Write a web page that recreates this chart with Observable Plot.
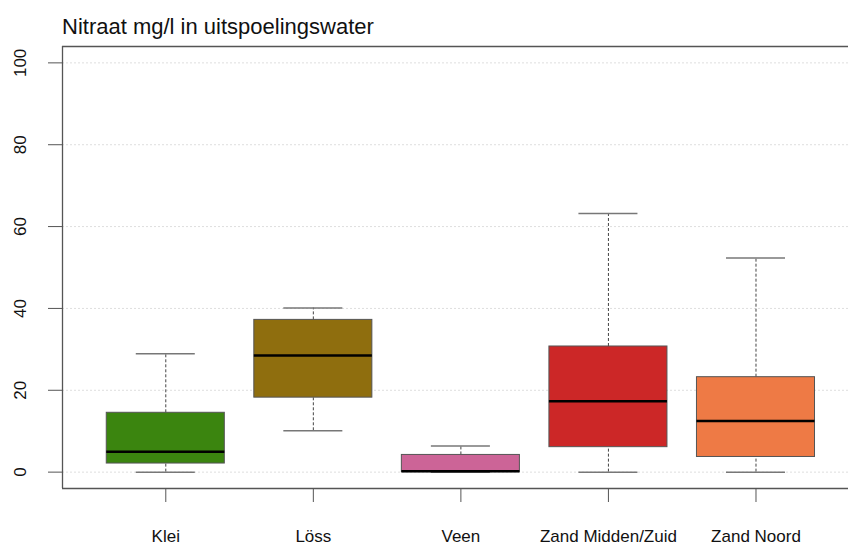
<!DOCTYPE html>
<html>
<head>
<meta charset="utf-8">
<script src="https://cdn.jsdelivr.net/npm/d3@7"></script>
<script src="https://cdn.jsdelivr.net/npm/@observablehq/plot@0.6"></script>
<style>
  html, body { margin: 0; padding: 0; background: white; overflow: hidden; }
  #title { height: 22px; padding: 16px 0 2px 62px; font: 22px "Liberation Sans", Arial, sans-serif; line-height: 22px; color: #111; white-space: nowrap; }
</style>
</head>
<body>
<div id="title">Nitraat mg/l in uitspoelingswater</div>
<div id="chart"></div>
<script>
const categories = ["Klei", "Löss", "Veen", "Zand Midden/Zuid", "Zand Noord"];
const colors     = ["#3b850f", "#8f6e0e", "#cc6497", "#cc2727", "#ee7a45"];
const whiskerLow = [0, 10.1, 0, 0, 0];
const q1         = [2.1, 18.2, 0, 6.1, 3.7];
const median     = [5.0, 28.5, 0.2, 17.3, 12.5];
const q3         = [14.5, 37.2, 4.2, 30.7, 23.2];
const whiskerHigh= [28.9, 40.1, 6.4, 63.2, 52.3];
const yTicks     = [0, 20, 40, 60, 80, 100];

const data = categories.map((c, i) => ({
  cat: c, pos: i + 1, color: colors[i],
  lo: whiskerLow[i], q1: q1[i], med: median[i], q3: q3[i], hi: whiskerHigh[i]
}));

const xMin = 0.3, xMax = 5.627, yMin = -4, yMax = 104;
const boxHalf = 0.4, capHalf = 0.2;

const plot = Plot.plot({
  width: 848,
  height: 505,
  marginLeft: 62,
  marginRight: 0,
  marginTop: 6,
  marginBottom: 57,
  style: { fontFamily: "'Liberation Sans', Arial, sans-serif", fontSize: "16px", background: "white", color: "#111" },
  x: { domain: [xMin, xMax], axis: null },
  y: { domain: [yMin, yMax], axis: null },
  marks: [
    // grid
    Plot.ruleY(yTicks, { stroke: "#dedede", strokeDasharray: "2,2", strokeWidth: 1 }),
    // whiskers
    Plot.ruleX(data, { x: "pos", y1: "q3", y2: "hi", stroke: "#444", strokeDasharray: "3,2", strokeWidth: 1 }),
    Plot.ruleX(data, { x: "pos", y1: "lo", y2: "q1", stroke: "#444", strokeDasharray: "3,2", strokeWidth: 1 }),
    // caps
    Plot.ruleY(data, { y: "hi", x1: d => d.pos - capHalf, x2: d => d.pos + capHalf, stroke: "#777", strokeWidth: 1.5 }),
    Plot.ruleY(data, { y: "lo", x1: d => d.pos - capHalf, x2: d => d.pos + capHalf, stroke: "#777", strokeWidth: 1.5 }),
    // boxes
    Plot.rect(data, { x1: d => d.pos - boxHalf, x2: d => d.pos + boxHalf, y1: "q1", y2: "q3", fill: "color", stroke: "#555", strokeWidth: 1 }),
    // medians
    Plot.ruleY(data, { y: "med", x1: d => d.pos - boxHalf, x2: d => d.pos + boxHalf, stroke: "#000", strokeWidth: 2.5 }),
    // frame (right edge falls outside the window)
    Plot.ruleX([xMin], { y1: yMin, y2: yMax, stroke: "#555", strokeWidth: 1.3 }),
    Plot.ruleY([yMin, yMax], { stroke: "#555", strokeWidth: 1.3 }),
    // y axis
    Plot.axisY({ ticks: yTicks, tickSize: 14, tickFormat: () => "", stroke: "#555", label: null }),
    Plot.text(yTicks, { x: xMin, y: d => d, dx: -42, rotate: -90, text: d => String(d), fontSize: 17, fill: "#111" }),
    // x axis
    Plot.axisX({ ticks: data.map(d => d.pos), tickSize: 14, tickPadding: 27, tickFormat: i => categories[i - 1], fontSize: 17, stroke: "#555", fill: "#111", label: null })
  ]
});
document.getElementById("chart").appendChild(plot);
</script>
</body>
</html>
